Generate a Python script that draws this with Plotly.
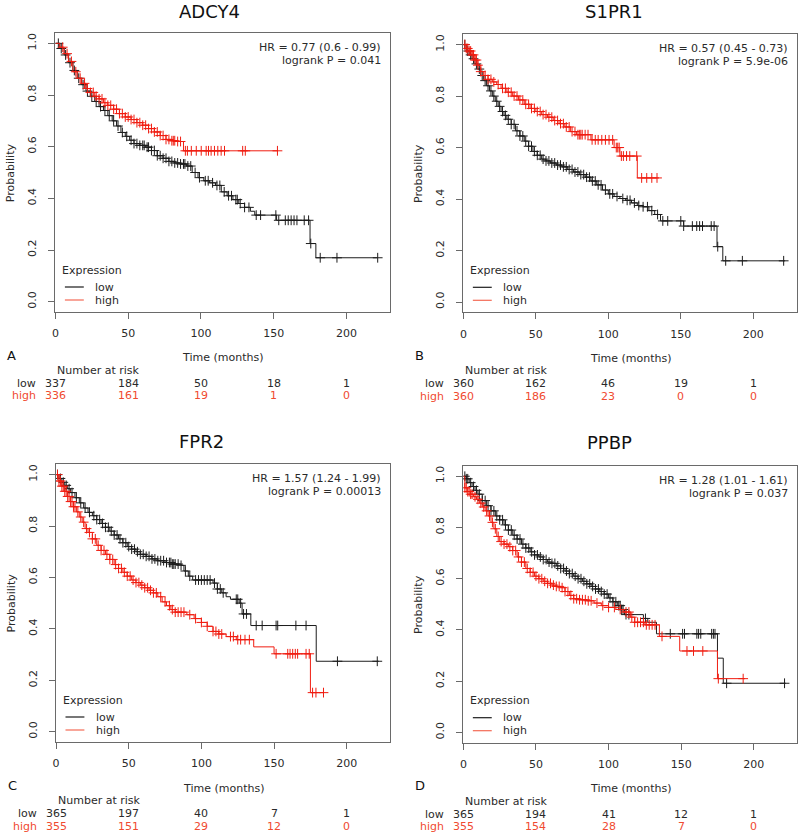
import bisect
import plotly.graph_objects as go

W, H = 800, 836

# ---------------- data ----------------
genes = ["ADCY4", "S1PR1", "FPR2", "PPBP"]
panel_letters = ["A", "B", "C", "D"]
hr_texts = ["HR = 0.77 (0.6 - 0.99)", "HR = 0.57 (0.45 - 0.73)",
            "HR = 1.57 (1.24 - 1.99)", "HR = 1.28 (1.01 - 1.61)"]
p_texts = ["logrank P = 0.041", "logrank P = 5.9e-06",
           "logrank P = 0.00013", "logrank P = 0.037"]
group_names = ["low", "high"]

risk_times = [0, 50, 100, 150, 200]
adcy4_risk_low = [337, 184, 50, 18, 1]
adcy4_risk_high = [336, 161, 19, 1, 0]
s1pr1_risk_low = [360, 162, 46, 19, 1]
s1pr1_risk_high = [360, 186, 23, 0, 0]
fpr2_risk_low = [365, 197, 40, 7, 1]
fpr2_risk_high = [355, 151, 29, 12, 0]
ppbp_risk_low = [365, 194, 41, 12, 1]
ppbp_risk_high = [355, 154, 28, 7, 0]

# ADCY4
adcy4_low_t = [0, 3, 6, 9, 12, 15, 18, 21, 24, 27, 30, 33, 36, 39, 42, 45, 48, 51, 54, 58, 62, 66, 70,
               74, 78, 82, 86, 90, 94, 98, 102, 106, 110, 114, 118, 122, 126, 130, 134, 137, 152,
               175, 179, 221]
adcy4_low_s = [1, .98, .955, .925, .895, .865, .84, .815, .795, .775, .755, .74, .72, .70, .68, .655,
               .64, .625, .612, .605, .598, .585, .565, .555, .543, .537, .533, .525, .50, .48, .468,
               .46, .45, .425, .41, .395, .38, .365, .35, .335, .315, .225, .17, .17]
adcy4_low_cens = [2, 4, 7, 10, 13, 16, 19, 22, 25, 28, 31, 34, 37, 40, 43, 46, 49, 52, 54, 56, 58, 60,
                  61, 63, 64, 66, 68, 70, 72, 74, 76, 78, 80, 82, 84, 86, 88, 89, 91, 93, 96, 99, 103,
                  105, 108, 111, 113, 116, 119, 121, 124, 125, 127, 130, 133, 138, 141, 151.5, 153.5,
                  158, 160, 162, 164, 166, 171, 174, 175.5, 182, 193.5, 221.5]
adcy4_high_t = [0, 3, 6, 9, 12, 15, 18, 21, 24, 27, 30, 33, 36, 40, 44, 48, 52, 56, 60, 64, 68, 72, 76,
                80, 84, 88, 153]
adcy4_high_s = [1, .985, .96, .93, .89, .865, .845, .825, .81, .795, .785, .77, .76, .745, .728, .715,
                .705, .693, .683, .67, .657, .643, .628, .623, .62, .584, .584]
adcy4_high_cens = [5, 8, 11, 14, 17, 20, 22, 24, 26, 28, 30, 32, 34, 36, 38, 40, 42, 44, 46, 48, 50,
                   52, 54, 56, 58, 60, 62, 64, 66, 68, 70, 72, 74, 76, 78, 80, 81, 82, 84, 86, 89.3,
                   90.7, 93.4, 96.8, 100.2, 103.6, 105.2, 107, 109.3, 111.6, 113.9, 116.2, 128.7,
                   130.5, 152.6]

# S1PR1
s1pr1_low_t = [0, 2, 4, 6, 8, 10, 12, 14, 16, 18, 20, 22, 24, 26, 28, 30, 33, 36, 39, 42, 45, 48, 51,
               54, 57, 60, 64, 68, 72, 76, 80, 84, 88, 92, 96, 100, 104, 108, 112, 116, 120, 124,
               128, 132, 136, 152, 175, 179, 222]
s1pr1_low_s = [1, .975, .96, .945, .925, .905, .88, .86, .84, .82, .80, .78, .76, .74, .725, .71, .69,
               .665, .645, .625, .605, .585, .57, .555, .548, .54, .532, .525, .515, .505, .495, .485,
               .47, .455, .435, .42, .41, .402, .395, .385, .375, .37, .355, .34, .315, .295, .215,
               .16, .16]
s1pr1_low_cens = [1, 3, 5, 7, 9, 11, 13, 15, 17, 19, 21, 23, 25, 27, 29, 31, 33, 35, 37, 39, 41, 43,
                  45, 47, 49, 51, 53, 55, 57, 59, 61, 63, 65, 67, 69, 71, 73, 75, 77, 79, 81, 83, 85,
                  87, 89, 91, 93, 95, 98, 101, 103, 106, 110, 113, 115, 118, 121, 124, 127, 130, 134,
                  137.6, 141, 150, 152, 158, 161, 163, 165, 171, 173, 175.5, 181, 192.5, 221]
s1pr1_high_t = [0, 2, 4, 6, 8, 10, 12, 14, 17, 20, 23, 26, 30, 34, 38, 42, 46, 50, 54, 58, 62, 66, 70,
                74, 78, 88, 104, 108, 120, 135]
s1pr1_high_s = [1, .985, .975, .96, .94, .92, .895, .88, .865, .855, .845, .83, .815, .80, .785, .768,
                .752, .74, .728, .718, .705, .693, .68, .662, .65, .63, .60, .567, .482, .482]
s1pr1_high_cens = [1, 2, 3, 4, 5, 6, 7, 8, 9, 10, 12, 15, 17, 19, 21, 24, 27, 29, 31, 33, 35, 37, 39,
                   41, 43, 45, 47, 49, 51, 53, 55, 57, 59, 61, 63, 65, 67, 69, 71, 73, 75, 77, 79, 80,
                   81, 82, 84, 86, 88.8, 91, 93, 95.5, 98, 100.5, 103, 105.5, 106.5, 107.5, 109,
                   110.4, 112.6, 114.8, 119.6, 123, 126.5, 130, 133.6]

# FPR2
fpr2_low_t = [0, 2, 4, 6, 8, 10, 13, 16, 19, 22, 25, 28, 31, 34, 37, 40, 43, 46, 49, 52, 55, 58, 62,
              66, 70, 75, 80, 86, 88, 91, 94, 108, 111, 114, 117, 120, 126, 128, 134, 179, 222]
fpr2_low_s = [1, .985, .97, .958, .945, .93, .91, .89, .87, .853, .84, .825, .81, .795, .78, .765, .75,
              .735, .72, .71, .70, .69, .682, .672, .665, .658, .652, .647, .625, .605, .59, .578,
              .555, .54, .525, .515, .5, .458, .413, .274, .274]
fpr2_low_cens = [1, 3, 5, 7, 9, 11, 14, 17, 20, 23, 26, 28, 30, 32, 34, 36, 38, 40, 42, 44, 46, 48,
                 50, 52, 54, 56, 58, 60, 62, 64, 66, 68, 70, 72, 74, 76, 78, 79, 80, 81, 82, 84, 86,
                 89, 92, 96, 98, 100, 102, 104, 106, 109, 111, 113, 115, 124, 125, 127, 129, 131,
                 137.7, 141.8, 151.4, 152.5, 165, 172, 193.6, 221]
fpr2_high_t = [0, 2, 4, 6, 8, 10, 12, 14, 16, 18, 20, 22, 25, 28, 31, 34, 37, 40, 43, 46, 49, 52, 55,
               58, 61, 64, 67, 70, 73, 76, 79, 82, 90, 95, 100, 104, 108, 112, 117, 124, 136, 150,
               175, 184]
fpr2_high_s = [1, .975, .955, .935, .915, .895, .875, .855, .835, .815, .79, .775, .75, .725, .705,
               .69, .67, .65, .635, .62, .605, .59, .58, .57, .56, .55, .54, .525, .505, .49, .475,
               .465, .455, .44, .425, .41, .39, .38, .37, .358, .33, .303, .152, .152]
fpr2_high_cens = [1, 2, 3, 4, 5, 6, 7, 8, 9, 10, 11, 12, 13, 15, 17, 19, 21, 23, 25, 27, 29, 31, 33,
                  35, 37, 39, 41, 43, 45, 47, 49, 51, 53, 55, 57, 59, 61, 63, 65, 67, 69, 72, 75, 78,
                  80, 82, 84, 86, 88, 92, 96, 100, 104, 108, 110, 112, 114, 120, 122, 125, 127, 130,
                  133, 151.4, 159.4, 161, 162.8, 164.6, 166.2, 172, 174.2, 176.5, 178.8, 184]

# PPBP
ppbp_low_t = [0, 2, 4, 6, 8, 10, 13, 16, 19, 22, 25, 28, 31, 34, 37, 40, 43, 46, 49, 52, 55, 58, 61,
              64, 67, 70, 73, 76, 79, 82, 85, 88, 91, 94, 97, 100, 103, 106, 109, 111, 124, 127,
              133, 175, 179, 222]
ppbp_low_s = [1, .99, .975, .96, .945, .93, .905, .885, .865, .845, .83, .81, .79, .77, .755, .735,
              .72, .705, .693, .685, .675, .665, .66, .65, .64, .63, .62, .61, .60, .59, .58, .57,
              .56, .55, .54, .525, .51, .495, .48, .46, .445, .43, .385, .29, .192, .192]
ppbp_low_cens = [1, 2, 3, 5, 7, 9, 11, 13, 15, 17, 19, 21, 23, 25, 27, 29, 31, 33, 35, 37, 39, 41, 43,
                 45, 47, 49, 51, 53, 55, 57, 59, 61, 63, 65, 67, 69, 71, 73, 75, 77, 79, 81, 83, 85,
                 87, 89, 91, 93, 95, 97, 99, 101, 103, 105, 107, 108, 109, 110, 112, 114, 125.4,
                 142.5, 151, 152.3, 160.8, 162, 163.5, 171, 172.2, 173.3, 181.3, 221.2]
ppbp_high_t = [0, 1, 3, 5, 7, 9, 11, 13, 15, 17, 19, 21, 23, 25, 28, 31, 34, 37, 40, 43, 46, 49, 52,
               55, 58, 61, 64, 67, 70, 73, 76, 80, 85, 90, 95, 100, 105, 110, 115, 118, 125, 135,
               149, 175, 194]
ppbp_high_s = [1, .955, .94, .93, .92, .91, .895, .88, .865, .845, .82, .795, .765, .745, .735, .725,
               .71, .685, .665, .64, .625, .61, .6, .59, .582, .575, .57, .565, .55, .535, .522,
               .518, .514, .505, .495, .488, .48, .47, .45, .43, .42, .375, .318, .21, .21]
ppbp_high_cens = [1, 2, 3, 4, 5, 6, 8, 10, 12, 14, 16, 18, 20, 22, 24, 26, 28, 30, 32, 34, 36, 38, 40,
                  42, 44, 46, 48, 50, 52, 54, 56, 58, 60, 62, 64, 66, 68, 70, 72, 74, 76, 78, 80, 82,
                  84, 86, 88, 92, 96, 100, 104, 108, 112, 114, 116, 118, 120, 122, 124, 126, 128,
                  130, 132, 136.8, 154, 158.5, 164.9, 175.6, 192.7]

curves = [
    [(adcy4_low_t, adcy4_low_s, adcy4_low_cens), (adcy4_high_t, adcy4_high_s, adcy4_high_cens)],
    [(s1pr1_low_t, s1pr1_low_s, s1pr1_low_cens), (s1pr1_high_t, s1pr1_high_s, s1pr1_high_cens)],
    [(fpr2_low_t, fpr2_low_s, fpr2_low_cens), (fpr2_high_t, fpr2_high_s, fpr2_high_cens)],
    [(ppbp_low_t, ppbp_low_s, ppbp_low_cens), (ppbp_high_t, ppbp_high_s, ppbp_high_cens)],
]
risks = [(adcy4_risk_low, adcy4_risk_high), (s1pr1_risk_low, s1pr1_risk_high),
         (fpr2_risk_low, fpr2_risk_high), (ppbp_risk_low, ppbp_risk_high)]

# ---------------- styling / layout ----------------
FONT = "DejaVu Sans"
BLACK = "#1c1c1c"
RED = "#f01c10"
RED_TXT = "#f04a30"
TXT = "#2a2a2a"
BOX = "#6a6a6a"
colors = [BLACK, RED]

# plot boxes in pixels: left, top, right, bottom
boxes = [(51.7, 33, 388, 312), (461.7, 34.3, 796.7, 312.3),
         (52.3, 464.3, 388.3, 742), (461.7, 466, 797.3, 742.7)]
title_pos = [(207, 11), (613, 12), (198, 441), (609, 442)]


def px(x):
    return x / W


def py(y):
    return 1 - y / H


def step_at(ts, ss, t):
    i = bisect.bisect_right(ts, t) - 1
    return ss[max(i, 0)]


fig = go.Figure()
annotations = []
shapes = []

for k in range(4):
    ax = "" if k == 0 else str(k + 1)
    xa, ya = "x" + ax, "y" + ax
    for g, (ts, ss, cens) in enumerate(curves[k]):
        fig.add_trace(go.Scatter(x=ts, y=ss, mode="lines", line=dict(color=colors[g], width=1, shape="hv"),
                                 xaxis=xa, yaxis=ya, showlegend=False, hoverinfo="skip"))
        fig.add_trace(go.Scatter(x=cens, y=[step_at(ts, ss, c) for c in cens], mode="markers",
                                 marker=dict(symbol="cross-thin", size=7,
                                             line=dict(color=colors[g], width=1)),
                                 xaxis=xa, yaxis=ya, showlegend=False, hoverinfo="skip"))
    l, t, r, b = boxes[k]
    fig.layout["xaxis" + ax] = dict(domain=[px(l), px(r)], range=[0, 230], anchor=ya,
                                    tickvals=risk_times, ticks="outside", ticklen=6, tickcolor=BOX,
                                    ticklabelstandoff=5,
                                    showline=True, linecolor=BOX, linewidth=1, mirror=True,
                                    showgrid=False, zeroline=False, fixedrange=True,
                                    tickfont=dict(family=FONT, size=11, color=TXT))
    fig.layout["yaxis" + ax] = dict(domain=[py(b), py(t)], range=[-0.04, 1.04], anchor=xa,
                                    tickvals=[0, 0.2, 0.4, 0.6, 0.8, 1.0], tickformat=".1f",
                                    ticks="outside", ticklen=6, tickcolor=BOX, tickangle=-90,
                                    ticklabelstandoff=8,
                                    showline=True, linecolor=BOX, linewidth=1, mirror=True,
                                    showgrid=False, zeroline=False, fixedrange=True,
                                    tickfont=dict(family=FONT, size=11, color=TXT))

    def ann(text, x, y, size=11, color=TXT, xanchor="center", angle=0, xref="paper"):
        annotations.append(dict(text=text, x=x, y=y, xref=xref, yref="paper", showarrow=False,
                                xanchor=xanchor, yanchor="middle", textangle=angle,
                                font=dict(family=FONT, size=size, color=color)))

    # title
    ann(genes[k], px(title_pos[k][0]), py(title_pos[k][1]), size=18, color="#111111")
    # HR and p
    ann(hr_texts[k], px(r - 7), py(t + 14), xanchor="right")
    ann(p_texts[k], px(r - 7), py(t + 27), xanchor="right")
    # axis titles
    ann("Probability", px(l - 45), py((t + b) / 2), angle=-90)
    ann("Time (months)", px((l + r) / 2), py(b + 46))
    ann(panel_letters[k], px(l - 44), py(b + 43), size=13, color="#111111")
    # legend
    ann("Expression", px(l + 5), py(b - 42), xanchor="left")
    for g in range(2):
        yy = b - 25 + 13 * g
        shapes.append(dict(type="line", xref="paper", yref="paper", x0=px(l + 9.5), x1=px(l + 28.5),
                           y0=py(yy), y1=py(yy), line=dict(color=colors[g] if g == 0 else "#f36a55",
                                                           width=1.2)))
        ann(group_names[g], px(l + 38), py(yy), xanchor="left")
    # number at risk
    ann("Number at risk", px(l), py(b + 58.5), xanchor="left")
    xref = "x" + ax
    for g, row in enumerate(risks[k]):
        yy = b + 71.3 + 12.7 * g
        col = TXT if g == 0 else RED_TXT
        ann(group_names[g], px(l - 17.5), py(yy), xanchor="right", color=col)
        for tv, n in zip(risk_times, row):
            ann(str(n), tv, py(yy), color=col, xref=xref)

fig.update_layout(width=W, height=H, margin=dict(l=0, r=0, t=0, b=0),
                  paper_bgcolor="white", plot_bgcolor="white",
                  annotations=annotations, shapes=shapes, showlegend=False,
                  hovermode=False, font=dict(family=FONT))

fig.write_html("out.html", config={"displayModeBar": False, "staticPlot": True},
               post_script="document.body.style.margin='0';document.body.style.overflow='hidden';")
